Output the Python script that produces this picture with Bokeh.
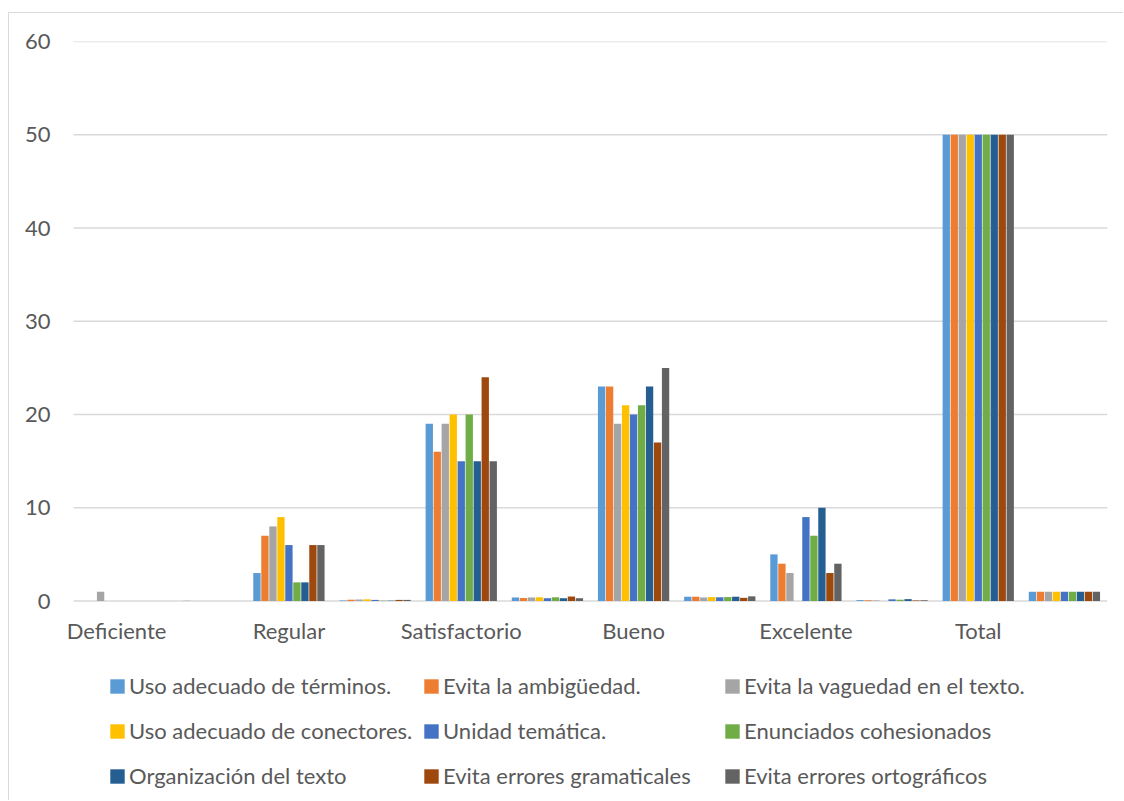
from bokeh.plotting import figure
from bokeh.models import ColumnDataSource, FixedTicker, Legend, LegendItem
from bokeh.transform import dodge
from bokeh.embed import file_html
from bokeh.resources import INLINE

# ---- data (12 categories; Excel only shows every other label) ----
categories = ["Deficiente", "", "Regular", "", "Satisfactorio", "",
              "Bueno", "", "Excelente", "", "Total", ""]

series_names = [
    "Uso adecuado de términos.",
    "Evita la ambigüedad.",
    "Evita la vaguedad en el texto.",
    "Uso adecuado de conectores.",
    "Unidad temática.",
    "Enunciados cohesionados",
    "Organización del texto",
    "Evita errores gramaticales",
    "Evita errores ortográficos",
]

uso_terminos   = [0, 0,    3, 0.06, 19, 0.38, 23, 0.46, 5,  0.10, 50, 1]
ambiguedad     = [0, 0,    7, 0.14, 16, 0.32, 23, 0.46, 4,  0.08, 50, 1]
vaguedad       = [1, 0.02, 8, 0.16, 19, 0.38, 19, 0.38, 3,  0.06, 50, 1]
conectores     = [0, 0,    9, 0.18, 20, 0.40, 21, 0.42, 0,  0,    50, 1]
unidad         = [0, 0,    6, 0.12, 15, 0.30, 20, 0.40, 9,  0.18, 50, 1]
cohesionados   = [0, 0,    2, 0.04, 20, 0.40, 21, 0.42, 7,  0.14, 50, 1]
organizacion   = [0, 0,    2, 0.04, 15, 0.30, 23, 0.46, 10, 0.20, 50, 1]
gramaticales   = [0, 0,    6, 0.12, 24, 0.48, 17, 0.34, 3,  0.06, 50, 1]
ortograficos   = [0, 0,    6, 0.12, 15, 0.30, 25, 0.50, 4,  0.08, 50, 1]

series_values = [uso_terminos, ambiguedad, vaguedad, conectores, unidad,
                 cohesionados, organizacion, gramaticales, ortograficos]

colors = ["#5B9BD5", "#ED7D31", "#A5A5A5", "#FFC000", "#4472C4",
          "#70AD47", "#255E91", "#9E480E", "#636363"]

y_ticks = [0, 10, 20, 30, 40, 50, 60]

FONT = "Lato"
TXT = "#595959"
GRID = "#d9d9d9"

n = len(categories)
# frame extends below the value axis (labels + legend) and a little to the left
p = figure(width=1115, height=788,
           x_range=(-0.651, n - 0.5), y_range=(-21.5, 60),
           output_backend="svg", toolbar_location=None,
           min_border_left=51, min_border_right=17,
           min_border_top=28, min_border_bottom=0)
p.styles = {"border-left": f"1px solid {GRID}", "border-top": f"1px solid {GRID}",
            "margin-left": "8px", "margin-top": "12px"}
p.outline_line_color = None
p.background_fill_color = "white"
p.border_fill_color = "white"

# horizontal gridlines (incl. the category axis line at 0), only over the plot area
grid_src = ColumnDataSource(dict(x0=[-0.5] * len(y_ticks), x1=[n - 0.5] * len(y_ticks),
                                 y=y_ticks))
p.segment(x0="x0", x1="x1", y0="y", y1="y", source=grid_src,
          line_color=GRID, line_width=1.3)

xs = list(range(n))
slot = 0.0928
bar_w = 0.085
renderers = []
for j, (name, vals, col) in enumerate(zip(series_names, series_values, colors)):
    src = ColumnDataSource(dict(x=xs, top=vals))
    r = p.vbar(x=dodge("x", (j - 4) * slot, range=p.x_range), top="top", bottom=0,
               width=bar_w, source=src, fill_color=col, line_color=None)
    renderers.append(r)

# axes
p.xaxis.fixed_location = 0
p.xaxis.ticker = FixedTicker(ticks=[i for i, c in enumerate(categories) if c])
p.xaxis.major_label_overrides = {i: c for i, c in enumerate(categories) if c}
p.xaxis.major_tick_line_color = None
p.xaxis.minor_tick_line_color = None
p.xaxis.major_tick_out = 0
p.xaxis.major_tick_in = 0
p.xaxis.axis_line_color = None
p.xaxis.major_label_standoff = 16
p.xaxis.major_label_text_font = FONT
p.xaxis.major_label_text_font_size = "22px"
p.xaxis.major_label_text_color = TXT

p.yaxis.ticker = FixedTicker(ticks=y_ticks)
p.yaxis.axis_line_color = None
p.yaxis.major_tick_line_color = None
p.yaxis.minor_tick_line_color = None
p.yaxis.major_tick_out = 0
p.yaxis.major_label_standoff = 10
p.yaxis.major_label_text_font = FONT
p.yaxis.major_label_text_font_size = "22px"
p.yaxis.major_label_text_color = TXT

p.xgrid.grid_line_color = None
p.ygrid.grid_line_color = None

# legend: three columns, items filled row by row
col_x = [48, 362, 663]
for c, vx in enumerate(col_x):
    its = [LegendItem(label=series_names[k], renderers=[renderers[k]])
           for k in range(c, len(series_names), 3)]
    lg = Legend(items=its, location=(vx, 12), orientation="vertical",
                glyph_width=18, glyph_height=18, label_standoff=3,
                spacing=18, padding=0, margin=0,
                border_line_color=None, background_fill_alpha=0,
                label_text_font=FONT, label_text_font_size="22px",
                label_text_color=TXT)
    p.add_layout(lg, "center")

open("out.html", "w").write(file_html(p, INLINE))
